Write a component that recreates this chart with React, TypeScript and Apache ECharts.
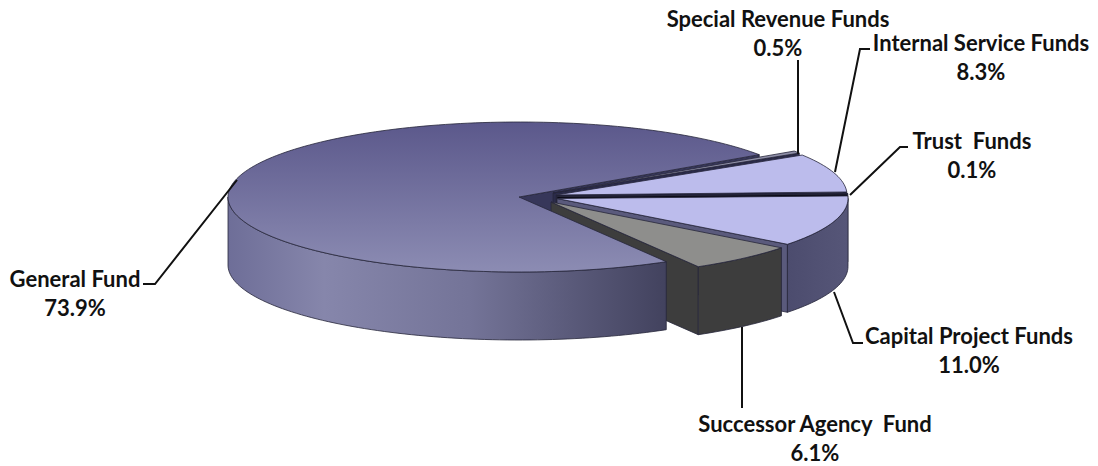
import React, { useEffect, useRef } from "react";
import * as echarts from "echarts";

// Fund shares in percent, clockwise from the small slice next to the General Fund
const funds = [
  "Special Revenue Funds",
  "Internal Service Funds",
  "Trust  Funds",
  "Capital Project Funds",
  "Successor Agency  Fund",
  "General Fund",
];
const shares = [0.5, 8.3, 0.1, 11.0, 6.1, 73.9];
const shareLabels = ["0.5%", "8.3%", "0.1%", "11.0%", "6.1%", "73.9%"];

// Math angle (degrees) at which the first slice begins, going clockwise on screen
const START_ANGLE = 34;
const RX = 291;
const RY = 75;
const DEPTH = 68;

// Exploded centre of every slice
const centres: [number, number][] = [
  [553, 193],
  [556, 195],
  [557, 196.5],
  [557, 198.5],
  [551, 202],
  [519, 197],
];

const gradV = (a: string, b: string) =>
  new echarts.graphic.LinearGradient(0, 0, 0, 1, [
    { offset: 0, color: a },
    { offset: 1, color: b },
  ]);
const gradH = (stops: [number, string][]) =>
  new echarts.graphic.LinearGradient(
    0,
    0,
    1,
    0,
    stops.map(([offset, color]) => ({ offset, color }))
  );

const sliceStyles = [
  { top: "#8f8fa8", rim: "#4a4a6a", cut: "#2b2b4a" },
  { top: "#bcbcec", rim: "#50506f", cut: "#22223c" },
  { top: "#101020", rim: "#101020", cut: "#0c0c18" },
  { top: "#bcbcec", rim: gradH([[0, "#4c4c6e"], [1, "#565678"]]), cut: "#5a5a7c" },
  { top: "#8e8e8c", rim: "#3d3d3d", cut: "#3d3d3d" },
  {
    top: gradV("#5b588b", "#8c8cb3"),
    rim: gradH([
      [0, "#6e6e98"],
      [0.22, "#8686ab"],
      [0.55, "#747498"],
      [1, "#42425e"],
    ]),
    cut: "#37375a",
  },
];

const OUTLINE = "#26263a";

// Angular extent of a slice, with angles decreasing clockwise
function sliceAngles(index: number): [number, number] {
  let consumed = 0;
  for (let i = 0; i < index; i++) consumed += shares[i];
  const from = START_ANGLE - (consumed / 100) * 360;
  const to = from - (shares[index] / 100) * 360;
  return [from, to];
}

function rimPoint(c: [number, number], deg: number): [number, number] {
  const r = (deg * Math.PI) / 180;
  return [c[0] + RX * Math.cos(r), c[1] - RY * Math.sin(r)];
}

function arcPoints(c: [number, number], from: number, to: number) {
  const steps = Math.max(2, Math.ceil(Math.abs(from - to) / 1.5));
  const pts: [number, number][] = [];
  for (let i = 0; i <= steps; i++) pts.push(rimPoint(c, from + ((to - from) * i) / steps));
  return pts;
}

// The radial face along the slice's clockwise edge
function cutFace(index: number) {
  const c = centres[index];
  const edge = rimPoint(c, sliceAngles(index)[1]);
  return {
    type: "polygon",
    shape: {
      points: [c, edge, [edge[0], edge[1] + DEPTH], [c[0], c[1] + DEPTH]],
    },
    style: { fill: sliceStyles[index].cut, stroke: OUTLINE, lineWidth: 0.8 },
  };
}

// The outer wall, kept to the part of the rim that faces the viewer
function outerWall(index: number) {
  const c = centres[index];
  const [from, to] = sliceAngles(index);
  const pieces: any[] = [];
  for (const [lo, hi] of [
    [-180, 0],
    [-540, -360],
  ]) {
    const a = Math.min(from, hi);
    const b = Math.max(to, lo);
    if (a <= b) continue;
    const top = arcPoints(c, a, b);
    const bottom = top.map(([x, y]) => [x, y + DEPTH]).reverse();
    pieces.push({
      type: "polygon",
      shape: { points: [...top, ...bottom] },
      style: { fill: sliceStyles[index].rim, stroke: OUTLINE, lineWidth: 0.8 },
    });
  }
  return pieces;
}

function topFace(index: number) {
  const c = centres[index];
  const [from, to] = sliceAngles(index);
  return {
    type: "polygon",
    shape: { points: [c, ...arcPoints(c, from, to)] },
    style: { fill: sliceStyles[index].top, stroke: OUTLINE, lineWidth: 0.8 },
  };
}

const GENERAL = shares.length - 1;

// Label text blocks and their leader lines
const labelAnchors: [number, number][] = [
  [778, 18],
  [981, 42],
  [972, 140],
  [969, 335],
  [815, 423],
  [75, 278],
];
const leaders: [number, number][][] = [
  [[798, 60], [798, 154]],
  [[870, 49], [860, 49], [835, 172]],
  [[908, 147], [900, 147], [850, 195]],
  [[863, 343], [853, 343], [834, 292]],
  [[742, 327], [742, 408]],
  [[143, 284], [155, 284], [237, 180]],
];

const LINE_GAP = 29;

export default function App() {
  const ref = useRef<HTMLDivElement>(null);

  useEffect(() => {
    const chart = echarts.init(ref.current!, undefined, { renderer: "svg" });
    const textStyle = (text: string, x: number, y: number) => ({
      type: "text",
      x,
      y,
      z: 20,
      style: {
        text,
        fill: "#111111",
        font: "bold 22px Lato",
        textAlign: "center",
        textVerticalAlign: "middle",
      },
    });

    chart.setOption({
      animation: false,
      backgroundColor: "#ffffff",
      series: [
        {
          // The General Fund's exposed cut face sits behind every other slice
          type: "custom",
          coordinateSystem: "none",
          silent: true,
          z: 1,
          data: [[shares[GENERAL], GENERAL]],
          renderItem: (_p: any, api: any) => cutFace(api.value(1)),
        },
        {
          type: "custom",
          coordinateSystem: "none",
          silent: true,
          z: 2,
          data: shares.map((v, i) => ({ name: funds[i], value: [v, i] })),
          renderItem: (_p: any, api: any) => {
            const i = api.value(1);
            const children =
              i === GENERAL
                ? [...outerWall(i), topFace(i)]
                : [cutFace(i), ...outerWall(i), topFace(i)];
            return { type: "group", children };
          },
        },
      ],
      graphic: [
        ...leaders.map((points) => ({
          type: "polyline",
          z: 10,
          shape: { points },
          style: { stroke: "#111111", lineWidth: 2, fill: "none" },
        })),
        ...funds.flatMap((name, i) => [
          textStyle(name, labelAnchors[i][0], labelAnchors[i][1]),
          textStyle(shareLabels[i], labelAnchors[i][0], labelAnchors[i][1] + LINE_GAP),
        ]),
      ],
    });
    return () => chart.dispose();
  }, []);

  return (
    <div
      ref={ref}
      style={{ position: "absolute", left: 0, top: 0, width: 1098, height: 466 }}
    />
  );
}
